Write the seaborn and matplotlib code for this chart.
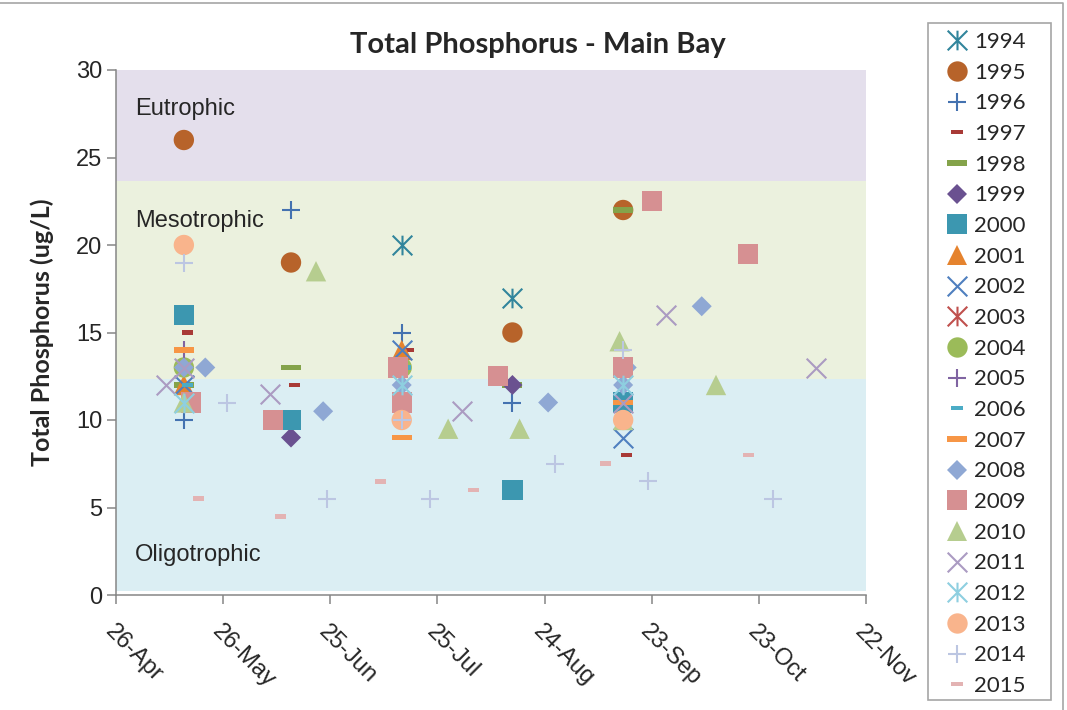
import datetime as dt

import matplotlib
matplotlib.use("Agg")
import matplotlib.pyplot as plt
import matplotlib.dates as mdates
from matplotlib.path import Path
from matplotlib.lines import Line2D
from matplotlib.patches import Rectangle
import pandas as pd
import seaborn as sns

# Total phosphorus samples (ug/L) per year, as (month-day, value)
tp_1994 = [("07-15", 20), ("08-15", 17)]
tp_1995 = [("05-15", 26), ("06-14", 19), ("08-15", 15), ("09-15", 22)]
tp_1996 = [("05-15", 10), ("06-14", 22), ("07-15", 15), ("08-15", 11)]
tp_1997 = [("05-16", 15), ("06-15", 12), ("07-17", 14), ("09-16", 8)]
tp_1998 = [("05-15", 12), ("06-14", 13), ("08-15", 12), ("09-15", 22)]
tp_1999 = [("06-14", 9), ("08-15", 12)]
tp_2000 = [("05-15", 16), ("06-14", 10), ("08-15", 6), ("09-15", 11)]
tp_2001 = [("05-15", 12), ("07-15", 14)]
tp_2002 = [("05-15", 12), ("07-15", 14), ("09-15", 9)]
tp_2003 = []
tp_2004 = [("05-15", 13), ("07-15", 13)]
tp_2005 = [("05-15", 14)]
tp_2006 = [("05-16", 12), ("07-16", 13)]
tp_2007 = [("05-15", 14), ("07-15", 9), ("09-15", 11)]
tp_2008 = [("05-15", 13), ("05-21", 13), ("06-23", 10.5), ("07-15", 12),
           ("08-25", 11), ("09-15", 12), ("09-16", 13), ("10-07", 16.5)]
tp_2009 = [("05-17", 11), ("06-09", 10), ("07-14", 13), ("07-15", 11),
           ("08-11", 12.5), ("09-15", 13), ("09-23", 22.5), ("10-20", 19.5)]
tp_2010 = [("05-15", 11), ("06-21", 18.5), ("07-28", 9.5), ("08-17", 9.5),
           ("09-14", 14.5), ("09-15", 10), ("10-11", 12)]
tp_2011 = [("05-10", 12), ("05-15", 13), ("06-08", 11.5), ("08-01", 10.5),
           ("09-15", 11), ("09-27", 16), ("11-08", 13)]
tp_2012 = [("05-15", 11), ("07-15", 12), ("09-15", 12)]
tp_2013 = [("05-15", 20), ("07-15", 10), ("09-15", 10)]
tp_2014 = [("05-15", 19), ("05-27", 11), ("06-24", 5.5), ("07-15", 10),
           ("07-23", 5.5), ("08-27", 7.5), ("09-15", 14), ("09-22", 6.5),
           ("10-27", 5.5)]
tp_2015 = [("05-19", 5.5), ("06-11", 4.5), ("07-09", 6.5), ("08-04", 6),
           ("09-10", 7.5), ("10-20", 8)]

years = list(range(1994, 2016))
series = [tp_1994, tp_1995, tp_1996, tp_1997, tp_1998, tp_1999, tp_2000,
          tp_2001, tp_2002, tp_2003, tp_2004, tp_2005, tp_2006, tp_2007,
          tp_2008, tp_2009, tp_2010, tp_2011, tp_2012, tp_2013, tp_2014,
          tp_2015]
colors = ["#31859C", "#B7632A", "#4472B0", "#A83A36", "#84A34A", "#6A5190",
          "#3C97B0", "#E5832E", "#4F7FBF", "#C0504D", "#9BBB59", "#8064A2",
          "#4BACC6", "#F79646", "#8FA8D4", "#D69092", "#B6CD8F", "#AB9BC2",
          "#8ECFE0", "#F9B48C", "#BCC6E2", "#E3B3B3"]
marker_cycle = ["asterisk", "circle", "plus", "dash", "longdash", "diamond",
                "square", "triangle", "cross"]

band_edges = [0.25, 12.35, 23.65, 30]
band_names = ["Oligotrophic", "Mesotrophic", "Eutrophic"]
band_colors = ["#DBEEF3", "#EBF1DE", "#E4DFEC"]
band_label_y = [2.3, 21.35, 27.75]

tick_dates = [dt.datetime(2015, 4, 26) + dt.timedelta(days=30 * i) for i in range(8)]

# marker shapes
M, L, C = Path.MOVETO, Path.LINETO, Path.CLOSEPOLY
asterisk = Path([(-1, -1), (1, 1), (-1, 1), (1, -1), (0, -1), (0, 1)], [M, L] * 3)
plus = Path([(-1, 0), (1, 0), (0, -1), (0, 1)], [M, L] * 2)
cross = Path([(-1, -1), (1, 1), (-1, 1), (1, -1)], [M, L] * 2)
dash = Path([(-1, -0.45), (1, -0.45), (1, 0.45), (-1, 0.45), (-1, -0.45)], [M, L, L, L, C])
longdash = Path([(-1, -0.3), (1, -0.3), (1, 0.3), (-1, 0.3), (-1, -0.3)], [M, L, L, L, C])

# kind -> (marker, size in pt^2, edge line width)
marker_spec = {
    "asterisk": (asterisk, 200, 1.5),
    "circle": ("o", 215, 0),
    "plus": (plus, 185, 1.5),
    "dash": (dash, 63, 0),
    "longdash": (longdash, 207, 0),
    "diamond": ("D", 104, 0),
    "square": ("s", 212, 0),
    "triangle": ("^", 215, 0),
    "cross": (cross, 200, 1.5),
}

sns.set_style("ticks")
plt.rcParams["font.family"] = ["Liberation Sans", "DejaVu Sans"]

fig = plt.figure(figsize=(10.67, 7.10), dpi=100)
ax = fig.add_axes([116 / 1067, 1 - 595 / 710, 750 / 1067, 525 / 710])

# trophic state bands
for lo, hi, col in zip(band_edges[:-1], band_edges[1:], band_colors):
    ax.axhspan(lo, hi, color=col, zorder=0, linewidth=0)

x0 = mdates.date2num(tick_dates[0])
for name, yy in zip(band_names, band_label_y):
    ax.text(x0 + 5.3, yy, name, fontsize=17, va="center", ha="left", zorder=1)

handles = []
for i, (year, pts, col) in enumerate(zip(years, series, colors)):
    kind = marker_cycle[i % len(marker_cycle)]
    mk, size, lw = marker_spec[kind]
    if pts:
        df = pd.DataFrame({
            "date": pd.to_datetime(["2015-" + d for d, _ in pts]),
            "tp": [v for _, v in pts],
        })
        sns.scatterplot(data=df, x="date", y="tp", marker=mk, s=size, color=col,
                        edgecolor=col if lw else "none", linewidth=lw,
                        legend=False, ax=ax, zorder=3 + i)
    handles.append(Line2D([], [], linestyle="none", marker=mk, markersize=size ** 0.5,
                          markerfacecolor=col, markeredgecolor=col,
                          markeredgewidth=lw, label=str(year)))

ax.set_xlim(tick_dates[0], tick_dates[-1])
ax.set_ylim(0, 30)
ax.set_yticks(range(0, 31, 5))
ax.set_xticks(tick_dates)
ax.set_xticklabels([d.strftime("%d-%b") for d in tick_dates], rotation=-45,
                   ha="left", va="top", rotation_mode="anchor")
ax.set_xlabel("")
ax.set_ylabel("")
ax.tick_params(axis="both", labelsize=17, color="#868686", length=6.5, width=1.1)
ax.tick_params(axis="x", pad=12)
sns.despine(ax=ax)
for side in ["left", "bottom"]:
    ax.spines[side].set_color("#868686")
    ax.spines[side].set_linewidth(1.1)

fig.text(538 / 1067, 1 - 45 / 710, "Total Phosphorus - Main Bay", family="Lato",
         weight="bold", fontsize=21, ha="center", va="center")
fig.text(42 / 1067, 1 - 332 / 710, "Total Phosphorus (ug/L)", family="Lato",
         weight="bold", fontsize=18, rotation=90, ha="center", va="center")

# legend with its own box
fig.legend(handles=handles, loc="upper left", bbox_to_anchor=(946 / 1067, 1 - 32 / 710),
           frameon=False, borderpad=0, borderaxespad=0, handlelength=1.0,
           handletextpad=0.25, labelspacing=0.48, prop={"family": "Lato", "size": 16})
fig.patches.append(Rectangle((928 / 1067, 1 - 700 / 710), 123 / 1067, 677 / 710,
                             transform=fig.transFigure, fill=False,
                             edgecolor="#A6A6A6", linewidth=1.2))
# chart area border (top and right)
fig.add_artist(Line2D([0, 1063 / 1067, 1063 / 1067], [1 - 3 / 710, 1 - 3 / 710, 0],
                      transform=fig.transFigure, color="#A6A6A6", linewidth=1.2))

fig.savefig("out.png", dpi=100)
